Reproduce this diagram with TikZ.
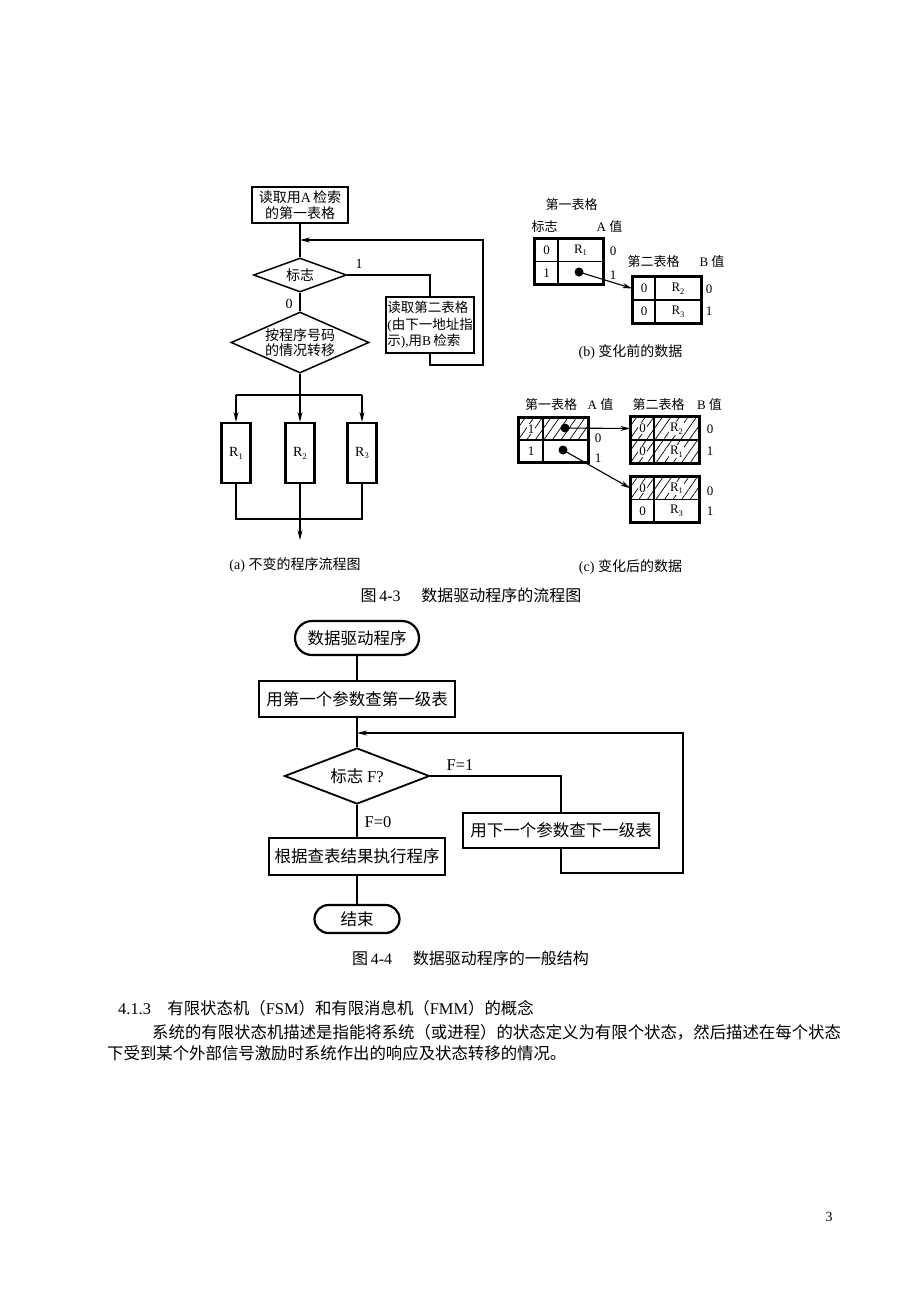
\documentclass[tikz,border=0pt]{standalone}
\usepackage{fontspec}
\setmainfont{Liberation Serif}
\newfontfamily\cjk{Noto Sans CJK SC}
\usetikzlibrary{shapes.geometric,arrows.meta,patterns.meta}
\newcommand\lat[1]{{\rmfamily #1}}
\newcommand\rsub[2]{#1\raisebox{-0.45ex}{\fontsize{8.5}{9}\selectfont #2}}
\newcommand\fsa{\fontsize{14}{15.5}\selectfont}
\newcommand\fsb{\fontsize{13.5}{16.5}\selectfont}
\newcommand\fsc{\fontsize{13}{15}\selectfont}
\newcommand\fse{\fontsize{16.5}{19}\selectfont}
\newcommand\fsd{\fontsize{16.4}{19}\selectfont}
\begin{document}
\begin{tikzpicture}[x=1pt,y=-1pt,
  ln/.style={line width=1.1pt},
  arr/.style={line width=1.1pt,-{Stealth[length=10pt,width=5pt]}},
  box/.style={draw,line width=2.2pt,inner sep=1pt,align=center},
  dia/.style={draw,diamond,line width=1.5pt,inner sep=0pt,align=center},
  rbox/.style={draw,line width=2.2pt,inner sep=0pt,minimum width=29,minimum height=60,font=\fsa},
  cell/.style={draw,line width=1.3pt,inner sep=0pt,font=\fsc},
  hatch/.style={pattern={Lines[angle=55,distance=7pt,line width=0.7pt]}},
  hl/.style={fill=white,inner sep=0.8pt,font=\fsc},
  tbl/.style={line width=2.4pt},
  dot/.style={circle,fill,inner sep=0pt,minimum size=9},
  lbl/.style={inner sep=0.5pt,font=\fsc},
  term/.style={draw,line width=2.2pt,inner sep=1pt,font=\fse\cjk},
  boxf/.style={draw,line width=2.2pt,inner sep=1pt,font=\fse\cjk},
  diaf/.style={draw,diamond,line width=1.8pt,inner sep=0pt,font=\fse\cjk},
  ]
\fill[white] (0,0) rectangle (920,1302);

% ---------------- (a) ----------------
\node[box,minimum width=96,minimum height=36,font=\fsa\cjk] (a1) at (300,205) {读取用\lat{A}\,检索\\的第一表格};
\node[dia,shape aspect=2.7,minimum width=93,minimum height=34,font=\fsa\cjk] (da1) at (300,275) {标志};
\node[lbl,font=\fsa] (l1) at (359,264) {1};
\node[box,minimum width=86,minimum height=56,font=\fsb\cjk,align=left] (a2) at (430,325) {读取第二表格\\\lat{(}由下一地址指\\示\lat{),}用\lat{B}\,检索};
\coordinate (ja) at (300,240);
\coordinate (alb) at (430,365);
\coordinate (art) at (483,240);
\draw[ln] (a1.south) -- (da1.north);
\draw[ln] (da1.east) -| (a2.north);
\draw[arr] (a2.south) -- (alb) -| (art) -- (ja);
\node[lbl,font=\fsa] (l0) at (289,304) {0};
\node[dia,shape aspect=2.26,minimum width=138,minimum height=61,font=\fsa\cjk] (da2) at (300,342.5) {按程序号码\\的情况转移};
\draw[ln] (da1.south) -- (da2.north);
\node[rbox] (r1) at (236,453) {\rsub{R}{1}};
\node[rbox] (r2) at (300,453) {\rsub{R}{2}};
\node[rbox] (r3) at (362,453) {\rsub{R}{3}};
\coordinate (atl) at (236,395);
\coordinate (atm) at (300,395);
\coordinate (atr) at (362,395);
\draw[ln] (da2.south) -- (atm);
\draw[ln] (atl) -- (atr);
\draw[arr] (atl) -- (r1.north);
\draw[arr] (atm) -- (r2.north);
\draw[arr] (atr) -- (r3.north);
\coordinate (abl) at (236,519);
\coordinate (abr) at (362,519);
\coordinate (aend) at (300,540);
\draw[ln] (r1.south) -- (abl) -- (abr) -- (r3.south);
\draw[arr] (r2.south) -- (aend);
\node[lbl,font=\fsa] (capa) at (295,565) {(a)\ {\cjk 不变的程序流程图}};

% ---------------- (b) ----------------
\node[lbl,font=\fsc\cjk] (bt1) at (571.5,205) {第一表格};
\node[lbl,font=\fsc\cjk] (bflag) at (544.5,227) {标志};
\node[lbl] (bav) at (609.5,227) {A {\cjk 值}};
\node[cell,minimum width=23,minimum height=22.5] (b1a) at (546.5,250.25) {0};
\node[cell,minimum width=45,minimum height=22.5] (b1b) at (580.5,250.25) {\rsub{R}{1}};
\node[cell,minimum width=23,minimum height=22.5] (b1c) at (546.5,272.75) {1};
\node[cell,minimum width=45,minimum height=22.5] (b1d) at (580.5,272.75) {};
\draw[tbl] (b1a.north west) rectangle (b1d.south east);
\node[lbl] (bv0) at (613,251) {0};
\node[lbl] (bv1) at (613,275) {1};
\node[lbl,font=\fsc\cjk] (bt2) at (653.5,262) {第二表格};
\node[lbl] (bbv) at (712,262) {B {\cjk 值}};
\node[cell,minimum width=22,minimum height=23] (b2a) at (644,288.5) {0};
\node[cell,minimum width=46,minimum height=23] (b2b) at (678,288.5) {\rsub{R}{2}};
\node[cell,minimum width=22,minimum height=23] (b2c) at (644,311.5) {0};
\node[cell,minimum width=46,minimum height=23] (b2d) at (678,311.5) {\rsub{R}{3}};
\draw[tbl] (b2a.north west) rectangle (b2d.south east);
\node[lbl] (bw0) at (709,289) {0};
\node[lbl] (bw1) at (709,311) {1};
\node[dot] (bdot) at (579,272) {};
\draw[arr] (bdot.center) -- (b2a.west);
\node[lbl,font=\fsa] (capb) at (630.5,352) {(b)\ {\cjk 变化前的数据}};

% ---------------- (c) ----------------
\node[lbl,font=\fsc\cjk] (ct1) at (551,405) {第一表格};
\node[lbl] (cav) at (600.5,405) {A {\cjk 值}};
\node[lbl,font=\fsc\cjk] (ct2) at (658.5,405) {第二表格};
\node[lbl] (cbv) at (709.5,405) {B {\cjk 值}};
\node[cell,hatch,minimum width=24,minimum height=22] (c1a) at (531,429) {};
\node[hl] (c1al) at (c1a) {1};
\node[cell,hatch,minimum width=45,minimum height=22] (c1b) at (565.5,429) {};
\node[cell,minimum width=24,minimum height=22] (c1c) at (531,451) {1};
\node[cell,minimum width=45,minimum height=22] (c1d) at (565.5,451) {};
\draw[tbl] (c1a.north west) rectangle (c1d.south east);
\node[dot] (cdot1) at (565,428) {};
\node[dot] (cdot2) at (563,450) {};
\node[lbl] (cv0) at (598,438) {0};
\node[lbl] (cv1) at (598,458) {1};
\node[cell,hatch,minimum width=23,minimum height=23] (c2a) at (642.5,428.5) {};
\node[hl] (c2al) at (c2a) {0};
\node[cell,hatch,minimum width=45,minimum height=23] (c2b) at (676.5,428.5) {};
\node[hl] (c2bl) at (c2b) {\rsub{R}{2}};
\node[cell,hatch,minimum width=23,minimum height=23] (c2c) at (642.5,451.5) {};
\node[hl] (c2cl) at (c2c) {0};
\node[cell,hatch,minimum width=45,minimum height=23] (c2d) at (676.5,451.5) {};
\node[hl] (c2dl) at (c2d) {\rsub{R}{1}};
\draw[tbl] (c2a.north west) rectangle (c2d.south east);
\node[lbl] (cw0) at (710,429) {0};
\node[lbl] (cw1) at (710,451) {1};
\node[cell,hatch,minimum width=23,minimum height=22.5] (c3a) at (642.5,488.25) {};
\node[hl] (c3al) at (c3a) {0};
\node[cell,hatch,minimum width=45,minimum height=22.5] (c3b) at (676.5,488.25) {};
\node[hl] (c3bl) at (c3b) {\rsub{R}{1}};
\node[cell,minimum width=23,minimum height=22.5] (c3c) at (642.5,510.75) {0};
\node[cell,minimum width=45,minimum height=22.5] (c3d) at (676.5,510.75) {\rsub{R}{3}};
\draw[tbl] (c3a.north west) rectangle (c3d.south east);
\node[lbl] (cx0) at (710,491) {0};
\node[lbl] (cx1) at (710,511) {1};
\draw[arr] (cdot1.center) -- (c2a.west);
\draw[arr] (cdot2.center) -- (c3a.west);
\node[lbl,font=\fsa] (capc) at (630.5,567) {(c)\ {\cjk 变化后的数据}};

\node[lbl,font=\fontsize{16}{18}\selectfont] (cap43) at (471,595) {{\cjk 图}\,4-3\hspace{1.3em}{\cjk 数据驱动程序的流程图}};

% ---------------- Fig 4-4 ----------------
\node[term,minimum width=124,minimum height=34,rounded corners=17] (t1) at (357,638) {数据驱动程序};
\node[boxf,minimum width=196,minimum height=36] (f1) at (357,699) {用第一个参数查第一级表};
\draw[ln] (t1) -- (f1);
\node[diaf,shape aspect=2.6,minimum width=145,minimum height=56] (d4) at (357,776) {标志\ \lat{F?}};
\draw[ln] (f1) -- (d4);
\node[lbl,font=\fse] (lf1) at (460,765) {F=1};
\node[boxf,minimum width=196,minimum height=35] (f2) at (561,830.5) {用下一个参数查下一级表};
\draw[ln] (d4.east) -| (f2.north);
\coordinate (fbl) at (561,873);
\coordinate (fbr) at (683,733);
\coordinate (fj) at (357,733);
\draw[arr] (f2.south) -- (fbl) -| (fbr) -- (fj);
\node[lbl,font=\fse] (lf0) at (378,822) {F=0};
\node[boxf,minimum width=176,minimum height=37] (f3) at (357,856.5) {根据查表结果执行程序};
\draw[ln] (d4.south) -- (f3.north);
\node[term,minimum width=85,minimum height=28,rounded corners=14] (t2) at (357,919) {结束};
\draw[ln] (f3) -- (t2);
\node[lbl,font=\fontsize{16}{18}\selectfont] (cap44) at (470.5,958) {{\cjk 图}\,4-4\hspace{1.3em}{\cjk 数据驱动程序的一般结构}};

% ---------------- text ----------------
\node[anchor=west,inner sep=0pt,font=\fsd] (h1) at (118,1008) {4.1.3{\cjk 　有限状态机（}FSM{\cjk ）和有限消息机（}FMM{\cjk ）的概念}};
\node[anchor=west,inner sep=0pt,font=\fsd\cjk] (p1) at (152,1032) {系统的有限状态机描述是指能将系统（或进程）的状态定义为有限个状态，然后描述在每个状态};
\node[anchor=west,inner sep=0pt,font=\fsd\cjk] (p2) at (107,1053) {下受到某个外部信号激励时系统作出的响应及状态转移的情况。};
\node[lbl,font=\fsa] (pg) at (829,1217) {3};
\end{tikzpicture}
\end{document}
